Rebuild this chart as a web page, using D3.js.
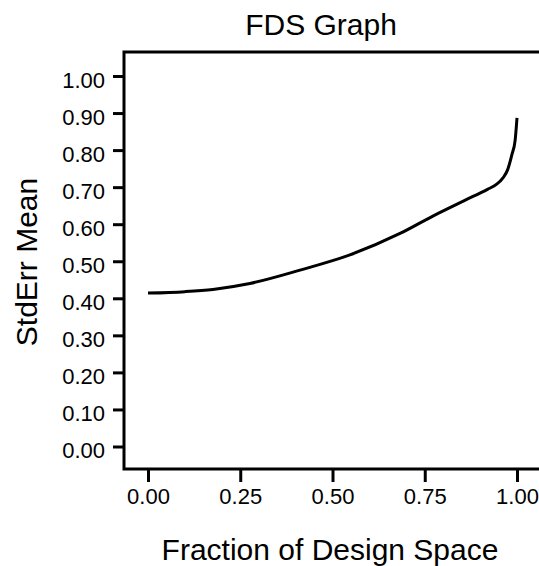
<!DOCTYPE html>
<html>
<head>
<meta charset="utf-8">
<script src="https://cdn.jsdelivr.net/npm/d3@7/dist/d3.min.js"></script>
<style>
  body { margin: 0; background: #fff; }
  svg { display: block; font-family: 'Liberation Sans', Arial, sans-serif; }
</style>
</head>
<body>
<div id="chart"></div>
<script>
// data
const fraction = [0, 0.1, 0.176, 0.276, 0.412, 0.547, 0.683, 0.772, 0.86, 0.92, 0.945, 0.962, 0.975, 0.986, 0.995, 1.0];
const stdErr = [0.414, 0.418, 0.424, 0.440, 0.476, 0.517, 0.575, 0.622, 0.665, 0.694, 0.708, 0.725, 0.748, 0.787, 0.827, 0.887];
const xTicks = [0, 0.25, 0.5, 0.75, 1.0];
const yTicks = [0, 0.1, 0.2, 0.3, 0.4, 0.5, 0.6, 0.7, 0.8, 0.9, 1.0];

const width = 539, height = 566;
const frame = { left: 124, top: 52, bottom: 469, right: 545 };

let svg = d3.select('#chart').append('svg')
	.attr('width', width)
	.attr('height', height);

let xScale = d3.scaleLinear().domain([0, 1]).range([148, 517]);
let yScale = d3.scaleLinear().domain([0, 1]).range([446.5, 76]);

// frame: top, left, bottom
svg.append('path')
	.attr('d', `M${frame.right},${frame.top}H${frame.left}V${frame.bottom}H${frame.right}`)
	.attr('fill', 'none')
	.attr('stroke', '#000')
	.attr('stroke-width', 3);

let xAxis = d3.axisBottom(xScale)
	.tickValues(xTicks)
	.tickSize(13)
	.tickPadding(6)
	.tickFormat(d3.format('.2f'));
let gX = svg.append('g')
	.attr('transform', `translate(0,${frame.bottom})`)
	.call(xAxis);
gX.select('.domain').remove();
gX.selectAll('line').attr('stroke-width', 3);
gX.selectAll('text')
	.attr('font-size', '22px')
	.attr('fill', '#000')
	.attr('font-family', "'Liberation Sans', Arial, sans-serif");

let yAxis = d3.axisLeft(yScale)
	.tickValues(yTicks)
	.tickSize(11)
	.tickPadding(8)
	.tickFormat(d3.format('.2f'));
let gY = svg.append('g')
	.attr('transform', `translate(${frame.left},0)`)
	.call(yAxis);
gY.select('.domain').remove();
gY.selectAll('line').attr('stroke-width', 3);
gY.selectAll('text')
	.attr('font-size', '22px')
	.attr('fill', '#000')
	.attr('dy', '0.50em')
	.attr('font-family', "'Liberation Sans', Arial, sans-serif");

// curve
let line = d3.line()
	.x((d, i) => xScale(fraction[i]))
	.y(d => yScale(d))
	.curve(d3.curveMonotoneX);
svg.append('path')
	.datum(stdErr)
	.attr('d', line)
	.attr('fill', 'none')
	.attr('stroke', '#000')
	.attr('stroke-width', 3);

// titles
svg.append('text')
	.attr('x', 321).attr('y', 35)
	.attr('text-anchor', 'middle')
	.attr('font-size', '30px')
	.text('FDS Graph');
svg.append('text')
	.attr('x', 330).attr('y', 560)
	.attr('text-anchor', 'middle')
	.attr('font-size', '30px')
	.text('Fraction of Design Space');
svg.append('text')
	.attr('transform', 'translate(37,262) rotate(-90)')
	.attr('text-anchor', 'middle')
	.attr('font-size', '30px')
	.text('StdErr Mean');
</script>
</body>
</html>
